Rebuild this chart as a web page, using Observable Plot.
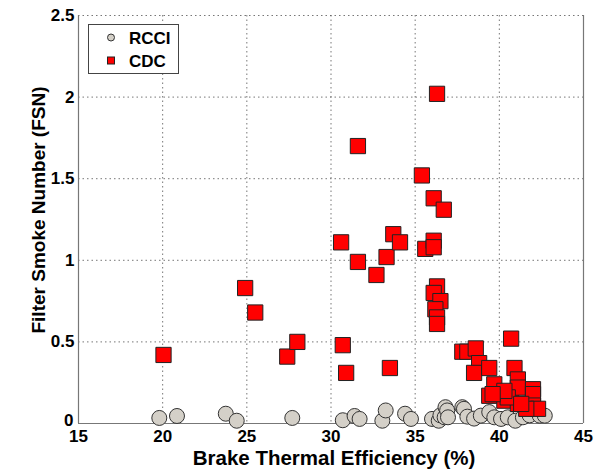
<!DOCTYPE html>
<html><head><meta charset="utf-8">
<script src="https://cdn.jsdelivr.net/npm/d3@7"></script>
<script src="https://cdn.jsdelivr.net/npm/@observablehq/plot@0.6"></script>
<style>
body{margin:0;background:#fff;}
#chart{position:relative;width:602px;height:472px;}
svg text{font-family:"Liberation Sans",Arial,sans-serif;}
</style>
</head><body><div id="chart"></div>
<script>
const rcciX = [19.8,20.85,23.75,24.4,27.7,30.7,31.4,31.7,33.05,33.25,34.4,34.75,36.0,36.4,36.5,36.75,36.8,36.9,36.95,37.8,37.9,38.1,38.5,38.9,39.4,39.7,40.1,40.5,40.95,41.4,41.8,42.4,42.7];
const rcciY = [0.034,0.046,0.06,0.017,0.034,0.02,0.046,0.028,0.017,0.08,0.06,0.028,0.028,0.017,0.05,0.038,0.1,0.08,0.038,0.1,0.09,0.042,0.03,0.048,0.07,0.038,0.028,0.038,0.017,0.038,0.05,0.048,0.048];
const cdcX = [20.05,24.9,25.5,27.4,28.0,30.6,30.7,30.9,31.6,31.6,32.7,33.3,33.5,33.7,34.1,35.4,35.6,36.1,36.1,36.1,36.3,36.7,36.3,36.1,36.5,36.2,36.3,36.3,40.7,37.8,38.1,38.6,38.8,38.5,39.4,39.7,39.4,39.8,40.3,40.7,40.9,41.1,41.1,41.1,42.0,42.0,42.0,42.3,41.6,40.5,41.3,40.3,39.6];
const cdcY = [0.42,0.83,0.68,0.41,0.50,1.11,0.48,0.31,1.70,0.99,0.91,1.02,0.34,1.16,1.11,1.52,1.07,1.38,1.12,1.08,2.02,1.31,0.84,0.80,0.75,0.70,0.65,0.61,0.52,0.44,0.44,0.46,0.37,0.31,0.34,0.24,0.17,0.18,0.14,0.19,0.34,0.27,0.22,0.12,0.21,0.18,0.11,0.09,0.09,0.16,0.12,0.20,0.18];
const xTicks = [15,20,25,30,35,40,45];
const yTicks = [0,0.5,1,1.5,2,2.5];
const yTickLabels = ["0","0.5","1","1.5","2","2.5"];

const rcci = rcciX.map((x,i)=>({x, y:rcciY[i]}));
const cdc = cdcX.map((x,i)=>({x, y:cdcY[i]}));
const fmtY = (d)=>yTickLabels[yTicks.indexOf(d)];

const plot = Plot.plot({
  width:602, height:472,
  marginLeft:78, marginRight:19, marginTop:15, marginBottom:49,
  style:{fontFamily:"Liberation Sans, Arial, sans-serif", fontSize:"15px", fontWeight:"bold", color:"#000", background:"#fff"},
  x:{domain:[15,45], ticks:xTicks, label:null},
  y:{domain:[0,2.5], ticks:yTicks, label:null},
  marks:[
    Plot.gridX(xTicks.slice(1,-1), {stroke:"#555", strokeOpacity:0.8, strokeDasharray:"1.5,3"}),
    Plot.gridY(yTicks.slice(1), {stroke:"#555", strokeOpacity:0.8, strokeDasharray:"1.5,3"}),
    Plot.ruleX([15,45], {stroke:"#777", strokeWidth:1.2}),
    Plot.ruleY([0], {stroke:"#777", strokeWidth:1.2}),
    Plot.axisX(xTicks, {tickSize:0, tickPadding:6, fontSize:17, fontWeight:"bold", fill:"#000"}),
    Plot.axisY(yTicks.slice(1), {tickSize:0, tickPadding:4, fontSize:17, fontWeight:"bold", fill:"#000", tickFormat:fmtY}),
    Plot.axisY(yTicks.slice(0,1), {tickSize:0, tickPadding:5, dy:-3, fontSize:17, fontWeight:"bold", fill:"#000", tickFormat:fmtY}),
    Plot.dot(rcci, {x:"x", y:"y", r:7.5, fill:"#d4d0c8", stroke:"#333", strokeWidth:1}),
    Plot.dot(cdc, {x:"x", y:"y", symbol:"square", r:8.6, fill:"#ff0000", stroke:"#222", strokeWidth:1})
  ]
});
document.getElementById("chart").appendChild(plot);

const svg = d3.select(plot);
// axis titles
svg.append("text").attr("x",334).attr("y",465).attr("text-anchor","middle")
  .attr("font-size",20.5).attr("font-weight","bold").attr("fill","#000")
  .text("Brake Thermal Efficiency (%)");
svg.append("text").attr("transform","translate(45,210) rotate(-90)").attr("text-anchor","middle")
  .attr("font-size",19).attr("font-weight","bold").attr("fill","#000")
  .text("Filter Smoke Number (FSN)");
// legend
const lg = svg.append("g").attr("text-anchor","start");
lg.append("rect").attr("x",88.5).attr("y",24.5).attr("width",90).attr("height",49)
  .attr("fill","#fff").attr("stroke","#444").attr("stroke-width",1);
lg.append("circle").attr("cx",111).attr("cy",37.5).attr("r",3.5).attr("fill","#d4d0c8").attr("stroke","#333");
lg.append("rect").attr("x",107.5).attr("y",57).attr("width",7).attr("height",7).attr("fill","#ff0000").attr("stroke","#222");
lg.append("text").attr("x",129).attr("y",44).attr("text-anchor","start").attr("font-size",17).attr("font-weight","bold").attr("fill","#000").text("RCCI");
lg.append("text").attr("x",129).attr("y",67).attr("text-anchor","start").attr("font-size",17).attr("font-weight","bold").attr("fill","#000").text("CDC");
</script>
</body></html>
